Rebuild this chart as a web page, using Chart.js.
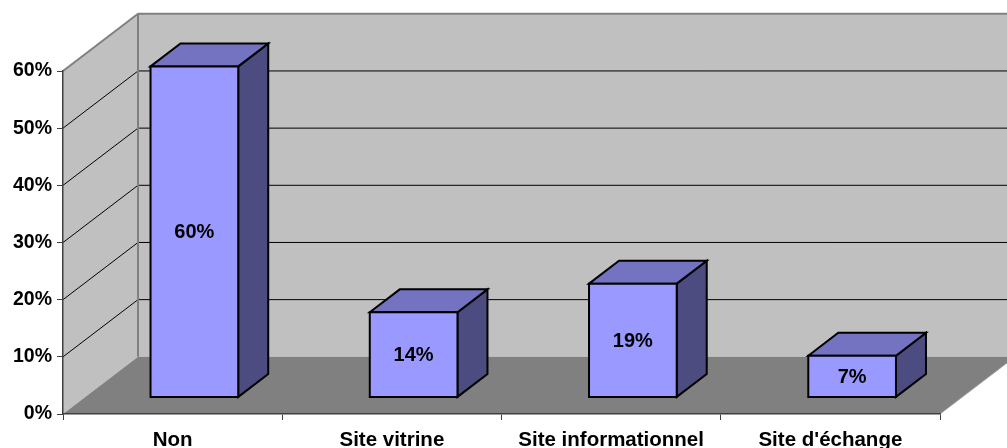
<!DOCTYPE html>
<html>
<head>
<meta charset="utf-8">
<script src="https://cdn.jsdelivr.net/npm/chart.js@4.4.0/dist/chart.umd.min.js"></script>
<style>
html, body { margin: 0; padding: 0; background: #fff; }
#wrap { width: 1007px; height: 448px; }
</style>
</head>
<body>
<div id="wrap"><canvas id="chart3d" width="1007" height="448"></canvas></div>
<script>
// data
const categories = ['Non', 'Site vitrine', 'Site informationnel', "Site d'échange"];
const barValues = [57.9, 14.9, 19.9, 7.3];          // bar heights as read on the axis
const valueLabels = ['60%', '14%', '19%', '7%'];    // labels printed on the bars
const yTicks = [0, 10, 20, 30, 40, 50, 60];

// fake 3D: depth vector of the plot box and where the bars sit in it
const DEPTH = { x: 75, y: -57.2 };
const BAR_FRONT = 0.29;
const BAR_DEPTH = 0.4;
const FONT = 'Arial, "Liberation Sans", sans-serif';

function poly(ctx, pts, fill, stroke, lw) {
    ctx.beginPath();
    ctx.moveTo(pts[0][0], pts[0][1]);
    for (let i = 1; i < pts.length; i++) ctx.lineTo(pts[i][0], pts[i][1]);
    ctx.closePath();
    if (fill) { ctx.fillStyle = fill; ctx.fill(); }
    if (stroke) { ctx.strokeStyle = stroke; ctx.lineWidth = lw || 1; ctx.stroke(); }
}

function line(ctx, x1, y1, x2, y2, color, lw) {
    ctx.beginPath();
    ctx.moveTo(x1, y1);
    ctx.lineTo(x2, y2);
    ctx.strokeStyle = color;
    ctx.lineWidth = lw;
    ctx.stroke();
}

const wallsPlugin = {
    id: 'walls',
    beforeDraw(chart) {
        const ctx = chart.ctx;
        const a = chart.chartArea;
        const y = chart.scales.y;
        const dx = DEPTH.x, dy = DEPTH.y;
        const W = chart.width + 40;
        ctx.save();

        // back wall
        poly(ctx, [[a.left + dx, a.top + dy], [W, a.top + dy], [W, a.bottom + dy], [a.left + dx, a.bottom + dy]], '#c0c0c0');
        // left wall
        poly(ctx, [[a.left, a.bottom], [a.left, a.top], [a.left + dx, a.top + dy], [a.left + dx, a.bottom + dy]], '#c0c0c0');
        // floor
        poly(ctx, [[a.left, a.bottom], [a.left + dx, a.bottom + dy], [a.right + dx, a.bottom + dy], [a.right, a.bottom]], '#808080');

        // grid lines on the walls
        yTicks.forEach(v => {
            if (v === 0) return;
            const py = y.getPixelForValue(v);
            const top = v === y.max;
            const col = top ? '#808080' : '#000';
            const lw = top ? 2 : 1;
            line(ctx, a.left, py, a.left + dx, py + dy, col, lw);
            line(ctx, a.left + dx, py + dy, W, py + dy, col, lw);
        });

        // back wall left edge
        line(ctx, a.left + dx, a.top + dy, a.left + dx, a.bottom + dy, '#808080', 2);
        // floor right edge
        line(ctx, a.right, a.bottom, a.right + dx, a.bottom + dy, '#a0a0a0', 1);

        ctx.restore();
    }
};

const barsPlugin = {
    id: 'bars3d',
    afterDatasetsDraw(chart) {
        const ctx = chart.ctx;
        const meta = chart.getDatasetMeta(0);
        const fdx = DEPTH.x * BAR_FRONT, fdy = DEPTH.y * BAR_FRONT;
        const bx = DEPTH.x * BAR_DEPTH, by = DEPTH.y * BAR_DEPTH;
        ctx.save();
        ctx.lineJoin = 'miter';
        meta.data.forEach((bar, i) => {
            const w = bar.width;
            const x0 = bar.x - w / 2 + fdx;
            const x1 = x0 + w;
            const top = bar.y + fdy;
            const bot = bar.base + fdy;

            // side face
            poly(ctx, [[x1, top], [x1 + bx, top + by], [x1 + bx, bot + by], [x1, bot]], '#4c4c80', '#000', 2);
            // top face
            poly(ctx, [[x0, top], [x0 + bx, top + by], [x1 + bx, top + by], [x1, top]], '#7373c2', '#000', 2);
            // front face
            poly(ctx, [[x0, top], [x1, top], [x1, bot], [x0, bot]], '#9999ff', '#000', 2);

            ctx.fillStyle = '#000';
            ctx.font = 'bold 20px ' + FONT;
            ctx.textAlign = 'center';
            ctx.textBaseline = 'middle';
            ctx.fillText(valueLabels[i], (x0 + x1) / 2, (top + bot) / 2 + 1);
        });
        ctx.restore();
    }
};

new Chart(document.getElementById('chart3d'), {
    type: 'bar',
    data: {
        labels: categories,
        datasets: [{
            data: barValues,
            backgroundColor: 'rgba(0,0,0,0)',
            borderWidth: 0,
            barPercentage: 0.4,
            categoryPercentage: 1
        }]
    },
    options: {
        responsive: false,
        devicePixelRatio: 1,
        animation: false,
        layout: { padding: { top: 71, right: 67, left: 0, bottom: 0 } },
        plugins: {
            legend: { display: false },
            tooltip: { enabled: false }
        },
        scales: {
            y: {
                min: 0,
                max: 60,
                afterBuildTicks: s => { s.ticks = yTicks.map(v => ({ value: v })); },
                afterFit: s => { s.width = 63; },
                ticks: {
                    callback: v => v + '%',
                    color: '#000',
                    font: { family: FONT, size: 19.5, weight: 'bold' },
                    padding: 5
                },
                grid: { drawOnChartArea: false, tickLength: 6, color: '#404040' },
                border: { color: '#404040', width: 1.5 }
            },
            x: {
                afterFit: s => { s.height = 34; },
                ticks: {
                    color: '#000',
                    font: { family: FONT, size: 20.5, weight: 'bold' },
                    padding: 8,
                    maxRotation: 0,
                    autoSkip: false
                },
                grid: { offset: true, drawOnChartArea: false, tickLength: 6, color: '#404040' },
                border: { color: '#404040', width: 1.5 }
            }
        }
    },
    plugins: [wallsPlugin, barsPlugin]
});
</script>
</body>
</html>
